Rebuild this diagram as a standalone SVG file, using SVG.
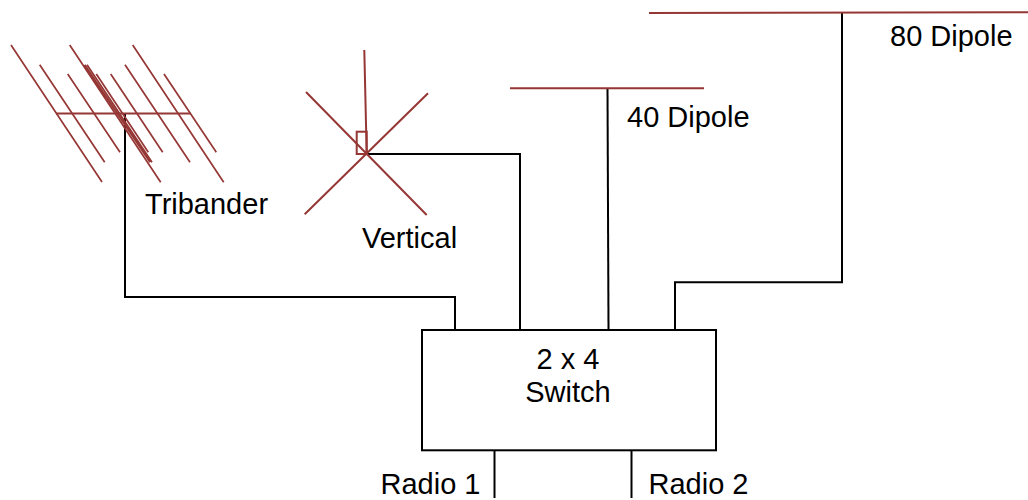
<svg xmlns="http://www.w3.org/2000/svg" width="1028" height="500" viewBox="0 0 1028 500">
<style>
.r{stroke:#953735;stroke-width:2;fill:none}
.t{stroke:#953735;stroke-width:1.700;fill:none}
.b{stroke:#000;stroke-width:2;fill:none}
text{font-family:"Liberation Sans",Arial,sans-serif;font-size:29px;fill:#000}
</style>
<rect width="1028" height="500" fill="#fff"/>
<g id="connectors">
<path class="b" d="M125 113V297H455V329"/>
<path class="b" d="M367 154H520V329"/>
<path class="b" d="M607.500 88L608.500 329"/>
<path class="b" d="M842 13V282.300H675V329"/>
<path class="b" d="M494.500 451V498"/>
<path class="b" d="M631.500 451V498"/>
</g>
<g id="tribander">
<path class="t" d="M11 45L102 182M39.700 64.700L104.700 162.300M67.700 74L120 152.300M69.700 45L160.700 182.300M84.700 64.700L150 162.300M87 64.700L152 162.300M96.300 74L148.300 152.300M110.700 74L162.700 152.300M125 64.700L190 162.300M132.700 45L223.700 182.300M164 74L216.300 152.300"/>
<path class="r" d="M56 113.500H190.700" stroke-width="2.500"/>
<text x="145" y="214">Tribander</text>
</g>
<g id="vertical">
<path class="r" d="M364.300 50L366.700 154M306 92L426.700 215M428 93.300L304.700 214.300"/>
<rect class="r" x="356.700" y="131.700" width="10" height="22.300"/>
<text x="362" y="248">Vertical</text>
</g>
<g id="dipole40">
<path class="r" d="M510 88.300H704"/>
<text x="627" y="127">40 Dipole</text>
</g>
<g id="dipole80">
<path class="r" d="M649 13L1028 12.300"/>
<text x="890" y="46">80 Dipole</text>
</g>
<g id="switch">
<rect class="b" x="422" y="330" width="294" height="120.300"/>
<text x="568" y="368.500" text-anchor="middle">2 x 4</text>
<text x="568" y="401.500" text-anchor="middle">Switch</text>
</g>
<g id="radio1"><text x="380.500" y="494">Radio 1</text></g>
<g id="radio2"><text x="648.500" y="494">Radio 2</text></g>
</svg>
